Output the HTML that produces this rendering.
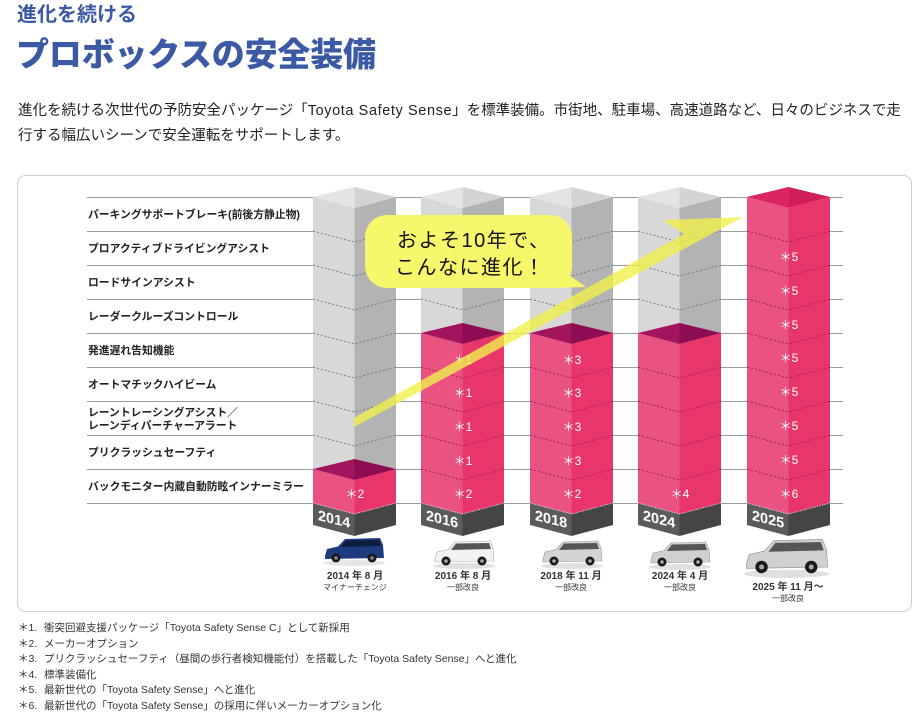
<!DOCTYPE html>
<html><head><meta charset="utf-8">
<style>
html,body{margin:0;padding:0;background:#fff;}
body{width:920px;height:717px;position:relative;overflow:hidden;font-family:"Liberation Sans","Noto Sans CJK JP",sans-serif;color:#222;}
.h1{position:absolute;left:17px;top:4px;font-size:20px;line-height:22px;font-weight:700;color:#3b59a4;}
.h2{position:absolute;left:16px;top:35px;font-size:33px;line-height:40px;font-weight:900;color:#3b59a4;letter-spacing:-0.2px;}
.body{position:absolute;left:18px;top:99px;font-size:14.5px;line-height:25px;color:#222;white-space:nowrap;}
.body .lat{letter-spacing:0.6px;}
.notes{position:absolute;left:18px;top:621px;font-size:10.5px;line-height:15.6px;color:#333;white-space:nowrap;}
.notes div{position:relative;padding-left:26px;}
.notes span{position:absolute;left:0;}
svg{position:absolute;left:0;top:0;}
</style></head><body>
<div class="h1">進化を続ける</div>
<div class="h2">プロボックスの安全装備</div>
<div class="body">進化を続ける次世代の予防安全パッケージ「<span class="lat">Toyota Safety Sense</span>」を標準装備。市街地、駐車場、高速道路など、日々のビジネスで走<br>行する幅広いシーンで安全運転をサポートします。</div>

<svg width="920" height="717" viewBox="0 0 920 717" xmlns="http://www.w3.org/2000/svg" font-family="Liberation Sans, Noto Sans CJK JP, sans-serif">
<rect x="17.5" y="175.5" width="894" height="436" rx="8" ry="8" fill="#fff" stroke="#cfcfcf" stroke-width="1"/>
<!-- grid lines -->
<g stroke="#9c9c9c" stroke-width="1">
<line x1="87" y1="197.5" x2="843" y2="197.5"/>
<line x1="87" y1="231.5" x2="843" y2="231.5"/>
<line x1="87" y1="265.5" x2="843" y2="265.5"/>
<line x1="87" y1="299.5" x2="843" y2="299.5"/>
<line x1="87" y1="333.5" x2="843" y2="333.5"/>
<line x1="87" y1="367.5" x2="843" y2="367.5"/>
<line x1="87" y1="401.5" x2="843" y2="401.5"/>
<line x1="87" y1="435.5" x2="843" y2="435.5"/>
<line x1="87" y1="469.5" x2="843" y2="469.5"/>
<line x1="87" y1="503.5" x2="843" y2="503.5"/>
</g>
<!-- row labels -->
<g font-size="10.8" font-weight="700" fill="#222">
<text x="88" y="218">パーキングサポートブレーキ(前後方静止物)</text>
<text x="88" y="252">プロアクティブドライビングアシスト</text>
<text x="88" y="286">ロードサインアシスト</text>
<text x="88" y="320">レーダークルーズコントロール</text>
<text x="88" y="354">発進遅れ告知機能</text>
<text x="88" y="388">オートマチックハイビーム</text>
<text x="88" y="416">レーントレーシングアシスト／</text>
<text x="88" y="429">レーンディパーチャーアラート</text>
<text x="88" y="456">プリクラッシュセーフティ</text>
<text x="88" y="490">バックモニター内蔵自動防眩インナーミラー</text>
</g>

<!-- BAR 2014 -->
<g transform="translate(313,0)">
<polygon points="0,197 41.5,208 41.5,480 0,469" fill="#d8d8d8"/>
<polygon points="41.5,208 83,197 83,469 41.5,480" fill="#b3b3b3"/>
<polygon points="0,197 41.5,187 41.5,208" fill="#e4e4e4"/>
<polygon points="41.5,187 83,197 41.5,208" fill="#d4d4d4"/>
<g fill="none" stroke="#7d7d7d" stroke-width="1" stroke-dasharray="2,2">
<polyline points="0,231 41.5,242 83,231"/><polyline points="0,265 41.5,276 83,265"/><polyline points="0,299 41.5,310 83,299"/><polyline points="0,333 41.5,344 83,333"/><polyline points="0,367 41.5,378 83,367"/><polyline points="0,401 41.5,412 83,401"/><polyline points="0,435 41.5,446 83,435"/>
</g>
<polygon points="0,469 41.5,480 41.5,514 0,503" fill="#ea5281"/>
<polygon points="41.5,480 83,469 83,503 41.5,514" fill="#e8366a"/>
<polygon points="0,469 41.5,459 41.5,480" fill="#a2155d"/>
<polygon points="41.5,459 83,469 41.5,480" fill="#8e0c51"/>
<polygon points="0,503 41.5,514 41.5,536 0,525" fill="#5b5b5b"/>
<polygon points="41.5,514 83,503 83,525 41.5,536" fill="#454545"/>
<polyline points="0,503 41.5,514 83,503" fill="none" stroke="#fff" stroke-width="1" stroke-dasharray="1,1.5" opacity="0.8"/>
<g fill="#fff" font-size="12" text-anchor="middle"><text x="42" y="498">＊2</text></g>
<text transform="translate(5,520) skewY(14)" fill="#fff" font-size="14.5" font-weight="700">2014</text>
</g>

<!-- BAR 2016 -->
<g transform="translate(421,0)">
<polygon points="0,197 41.5,208 41.5,344 0,333" fill="#d8d8d8"/>
<polygon points="41.5,208 83,197 83,333 41.5,344" fill="#b3b3b3"/>
<polygon points="0,197 41.5,187 41.5,208" fill="#e4e4e4"/>
<polygon points="41.5,187 83,197 41.5,208" fill="#d4d4d4"/>
<g fill="none" stroke="#7d7d7d" stroke-width="1" stroke-dasharray="2,2">
<polyline points="0,231 41.5,242 83,231"/><polyline points="0,265 41.5,276 83,265"/><polyline points="0,299 41.5,310 83,299"/>
</g>
<polygon points="0,333 41.5,344 41.5,514 0,503" fill="#ea5281"/>
<polygon points="41.5,344 83,333 83,503 41.5,514" fill="#e8366a"/>
<polygon points="0,333 41.5,323 41.5,344" fill="#a2155d"/>
<polygon points="41.5,323 83,333 41.5,344" fill="#8e0c51"/>
<g fill="none" stroke="#a3244f" stroke-width="1" stroke-dasharray="2,2">
<polyline points="0,367 41.5,378 83,367"/><polyline points="0,401 41.5,412 83,401"/><polyline points="0,435 41.5,446 83,435"/><polyline points="0,469 41.5,480 83,469"/>
</g>
<polygon points="0,503 41.5,514 41.5,536 0,525" fill="#5b5b5b"/>
<polygon points="41.5,514 83,503 83,525 41.5,536" fill="#454545"/>
<polyline points="0,503 41.5,514 83,503" fill="none" stroke="#fff" stroke-width="1" stroke-dasharray="1,1.5" opacity="0.8"/>
<g fill="#fff" font-size="12" text-anchor="middle"><text x="42" y="364">＊1</text><text x="42" y="397">＊1</text><text x="42" y="431">＊1</text><text x="42" y="465">＊1</text><text x="42" y="498">＊2</text></g>
<text transform="translate(5,520) skewY(14)" fill="#fff" font-size="14.5" font-weight="700">2016</text>
</g>

<!-- BAR 2018 -->
<g transform="translate(530,0)">
<polygon points="0,197 41.5,208 41.5,344 0,333" fill="#d8d8d8"/>
<polygon points="41.5,208 83,197 83,333 41.5,344" fill="#b3b3b3"/>
<polygon points="0,197 41.5,187 41.5,208" fill="#e4e4e4"/>
<polygon points="41.5,187 83,197 41.5,208" fill="#d4d4d4"/>
<g fill="none" stroke="#7d7d7d" stroke-width="1" stroke-dasharray="2,2">
<polyline points="0,231 41.5,242 83,231"/><polyline points="0,265 41.5,276 83,265"/><polyline points="0,299 41.5,310 83,299"/>
</g>
<polygon points="0,333 41.5,344 41.5,514 0,503" fill="#ea5281"/>
<polygon points="41.5,344 83,333 83,503 41.5,514" fill="#e8366a"/>
<polygon points="0,333 41.5,323 41.5,344" fill="#a2155d"/>
<polygon points="41.5,323 83,333 41.5,344" fill="#8e0c51"/>
<g fill="none" stroke="#a3244f" stroke-width="1" stroke-dasharray="2,2">
<polyline points="0,367 41.5,378 83,367"/><polyline points="0,401 41.5,412 83,401"/><polyline points="0,435 41.5,446 83,435"/><polyline points="0,469 41.5,480 83,469"/>
</g>
<polygon points="0,503 41.5,514 41.5,536 0,525" fill="#5b5b5b"/>
<polygon points="41.5,514 83,503 83,525 41.5,536" fill="#454545"/>
<polyline points="0,503 41.5,514 83,503" fill="none" stroke="#fff" stroke-width="1" stroke-dasharray="1,1.5" opacity="0.8"/>
<g fill="#fff" font-size="12" text-anchor="middle"><text x="42" y="364">＊3</text><text x="42" y="397">＊3</text><text x="42" y="431">＊3</text><text x="42" y="465">＊3</text><text x="42" y="498">＊2</text></g>
<text transform="translate(5,520) skewY(14)" fill="#fff" font-size="14.5" font-weight="700">2018</text>
</g>

<!-- BAR 2024 -->
<g transform="translate(638,0)">
<polygon points="0,197 41.5,208 41.5,344 0,333" fill="#d8d8d8"/>
<polygon points="41.5,208 83,197 83,333 41.5,344" fill="#b3b3b3"/>
<polygon points="0,197 41.5,187 41.5,208" fill="#e4e4e4"/>
<polygon points="41.5,187 83,197 41.5,208" fill="#d4d4d4"/>
<g fill="none" stroke="#7d7d7d" stroke-width="1" stroke-dasharray="2,2">
<polyline points="0,231 41.5,242 83,231"/><polyline points="0,265 41.5,276 83,265"/><polyline points="0,299 41.5,310 83,299"/>
</g>
<polygon points="0,333 41.5,344 41.5,514 0,503" fill="#ea5281"/>
<polygon points="41.5,344 83,333 83,503 41.5,514" fill="#e8366a"/>
<polygon points="0,333 41.5,323 41.5,344" fill="#a2155d"/>
<polygon points="41.5,323 83,333 41.5,344" fill="#8e0c51"/>
<g fill="none" stroke="#a3244f" stroke-width="1" stroke-dasharray="2,2">
<polyline points="0,367 41.5,378 83,367"/><polyline points="0,401 41.5,412 83,401"/><polyline points="0,435 41.5,446 83,435"/><polyline points="0,469 41.5,480 83,469"/>
</g>
<polygon points="0,503 41.5,514 41.5,536 0,525" fill="#5b5b5b"/>
<polygon points="41.5,514 83,503 83,525 41.5,536" fill="#454545"/>
<polyline points="0,503 41.5,514 83,503" fill="none" stroke="#fff" stroke-width="1" stroke-dasharray="1,1.5" opacity="0.8"/>
<g fill="#fff" font-size="12" text-anchor="middle"><text x="42" y="498">＊4</text></g>
<text transform="translate(5,520) skewY(14)" fill="#fff" font-size="14.5" font-weight="700">2024</text>
</g>

<!-- BAR 2025 -->
<g transform="translate(747,0)">
<polygon points="0,197 41.5,208 41.5,514 0,503" fill="#ea5281"/>
<polygon points="41.5,208 83,197 83,503 41.5,514" fill="#e8366a"/>
<polygon points="0,197 41.5,187 41.5,208" fill="#da2660"/>
<polygon points="41.5,187 83,197 41.5,208" fill="#d21e58"/>
<g fill="none" stroke="#a3244f" stroke-width="1" stroke-dasharray="2,2">
<polyline points="0,231 41.5,242 83,231"/><polyline points="0,265 41.5,276 83,265"/><polyline points="0,299 41.5,310 83,299"/><polyline points="0,333 41.5,344 83,333"/><polyline points="0,367 41.5,378 83,367"/><polyline points="0,401 41.5,412 83,401"/><polyline points="0,435 41.5,446 83,435"/><polyline points="0,469 41.5,480 83,469"/>
</g>
<polygon points="0,503 41.5,514 41.5,536 0,525" fill="#5b5b5b"/>
<polygon points="41.5,514 83,503 83,525 41.5,536" fill="#454545"/>
<polyline points="0,503 41.5,514 83,503" fill="none" stroke="#fff" stroke-width="1" stroke-dasharray="1,1.5" opacity="0.8"/>
<g fill="#fff" font-size="12" text-anchor="middle"><text x="42" y="261">＊5</text><text x="42" y="295">＊5</text><text x="42" y="329">＊5</text><text x="42" y="362">＊5</text><text x="42" y="396">＊5</text><text x="42" y="430">＊5</text><text x="42" y="464">＊5</text><text x="42" y="498">＊6</text></g>
<text transform="translate(5,520) skewY(14)" fill="#fff" font-size="14.5" font-weight="700">2025</text>
</g>

<!-- arrow -->
<polygon points="354,418 684,234 663,220 743,217 354,427" fill="rgb(240,240,76)" fill-opacity="0.8"/>

<!-- bubble -->
<polygon points="556,266 586,287 552,288" fill="#f7f76c"/>
<rect x="365" y="215" width="207" height="73" rx="22" ry="22" fill="#f7f76c"/>
<g font-size="20" fill="#111" letter-spacing="1.5">
<text x="397" y="247">およそ10年で、</text>
<text x="395" y="274">こんなに進化！</text>
</g>

<!-- cars -->
<g transform="translate(324,537)">
<ellipse cx="30" cy="26" rx="31" ry="3" fill="#e6e6e6"/>
<path d="M1,19 L3,12 L14,9.5 L21,2 L56,1 L59,8 L60,21 L1,22 Z" fill="#1d3b7e"/>
<path d="M17,10 L22,3.5 L55,3 L57,9 Z" fill="#0f1d3d"/>
<circle cx="12" cy="21" r="4.5" fill="#1a1a1a"/><circle cx="48" cy="21" r="4.5" fill="#1a1a1a"/>
<circle cx="12" cy="21" r="1.8" fill="#888"/><circle cx="48" cy="21" r="1.8" fill="#888"/>
</g>
<g transform="translate(434,540)">
<ellipse cx="30" cy="26" rx="31" ry="3" fill="#e0e0e0"/>
<path d="M1,19 L3,12 L14,9.5 L21,2 L56,1 L59,8 L60,21 L1,22 Z" fill="#f2f2f2" stroke="#aaa" stroke-width="0.6"/>
<path d="M17,10 L22,3.5 L55,3 L57,9 Z" fill="#555"/>
<circle cx="12" cy="21" r="4.5" fill="#1a1a1a"/><circle cx="48" cy="21" r="4.5" fill="#1a1a1a"/>
<circle cx="12" cy="21" r="1.8" fill="#aaa"/><circle cx="48" cy="21" r="1.8" fill="#aaa"/>
</g>
<g transform="translate(542,540)">
<ellipse cx="30" cy="26" rx="31" ry="3" fill="#e0e0e0"/>
<path d="M1,19 L3,12 L14,9.5 L21,2 L56,1 L59,8 L60,21 L1,22 Z" fill="#d4d4d4" stroke="#999" stroke-width="0.6"/>
<path d="M17,10 L22,3.5 L55,3 L57,9 Z" fill="#555"/>
<circle cx="12" cy="21" r="4.5" fill="#1a1a1a"/><circle cx="48" cy="21" r="4.5" fill="#1a1a1a"/>
<circle cx="12" cy="21" r="1.8" fill="#aaa"/><circle cx="48" cy="21" r="1.8" fill="#aaa"/>
</g>
<g transform="translate(650,541)">
<ellipse cx="30" cy="26" rx="31" ry="3" fill="#e0e0e0"/>
<path d="M1,19 L3,12 L14,9.5 L21,2 L56,1 L59,8 L60,21 L1,22 Z" fill="#d0d0d0" stroke="#999" stroke-width="0.6"/>
<path d="M17,10 L22,3.5 L55,3 L57,9 Z" fill="#555"/>
<circle cx="12" cy="21" r="4.5" fill="#1a1a1a"/><circle cx="48" cy="21" r="4.5" fill="#1a1a1a"/>
<circle cx="12" cy="21" r="1.8" fill="#aaa"/><circle cx="48" cy="21" r="1.8" fill="#aaa"/>
</g>
<g transform="translate(745,538) scale(1.38)">
<ellipse cx="30" cy="26" rx="31" ry="3" fill="#e0e0e0"/>
<path d="M1,19 L3,12 L14,9.5 L21,2 L56,1 L59,8 L60,21 L1,22 Z" fill="#d0d0d0" stroke="#999" stroke-width="0.5"/>
<path d="M17,10 L22,3.5 L55,3 L57,9 Z" fill="#555"/>
<circle cx="12" cy="21" r="4.5" fill="#1a1a1a"/><circle cx="48" cy="21" r="4.5" fill="#1a1a1a"/>
<circle cx="12" cy="21" r="1.8" fill="#aaa"/><circle cx="48" cy="21" r="1.8" fill="#aaa"/>
</g>

<!-- captions -->
<g fill="#333" text-anchor="middle">
<text x="355" y="579" font-size="10" font-weight="700">2014 年 8 月</text>
<text x="355" y="590" font-size="8">マイナーチェンジ</text>
<text x="463" y="579" font-size="10" font-weight="700">2016 年 8 月</text>
<text x="463" y="590" font-size="8">一部改良</text>
<text x="571" y="579" font-size="10" font-weight="700">2018 年 11 月</text>
<text x="571" y="590" font-size="8">一部改良</text>
<text x="680" y="579" font-size="10" font-weight="700">2024 年 4 月</text>
<text x="680" y="590" font-size="8">一部改良</text>
<text x="788" y="590" font-size="10" font-weight="700">2025 年 11 月～</text>
<text x="788" y="601" font-size="8">一部改良</text>
</g>
</svg>

<div class="notes">
<div><span>＊1.</span>衝突回避支援パッケージ「Toyota Safety Sense C」として新採用</div>
<div><span>＊2.</span>メーカーオプション</div>
<div><span>＊3.</span>プリクラッシュセーフティ（昼間の歩行者検知機能付）を搭載した「Toyota Safety Sense」へと進化</div>
<div><span>＊4.</span>標準装備化</div>
<div><span>＊5.</span>最新世代の「Toyota Safety Sense」へと進化</div>
<div><span>＊6.</span>最新世代の「Toyota Safety Sense」の採用に伴いメーカーオプション化</div>
</div>
</body></html>
